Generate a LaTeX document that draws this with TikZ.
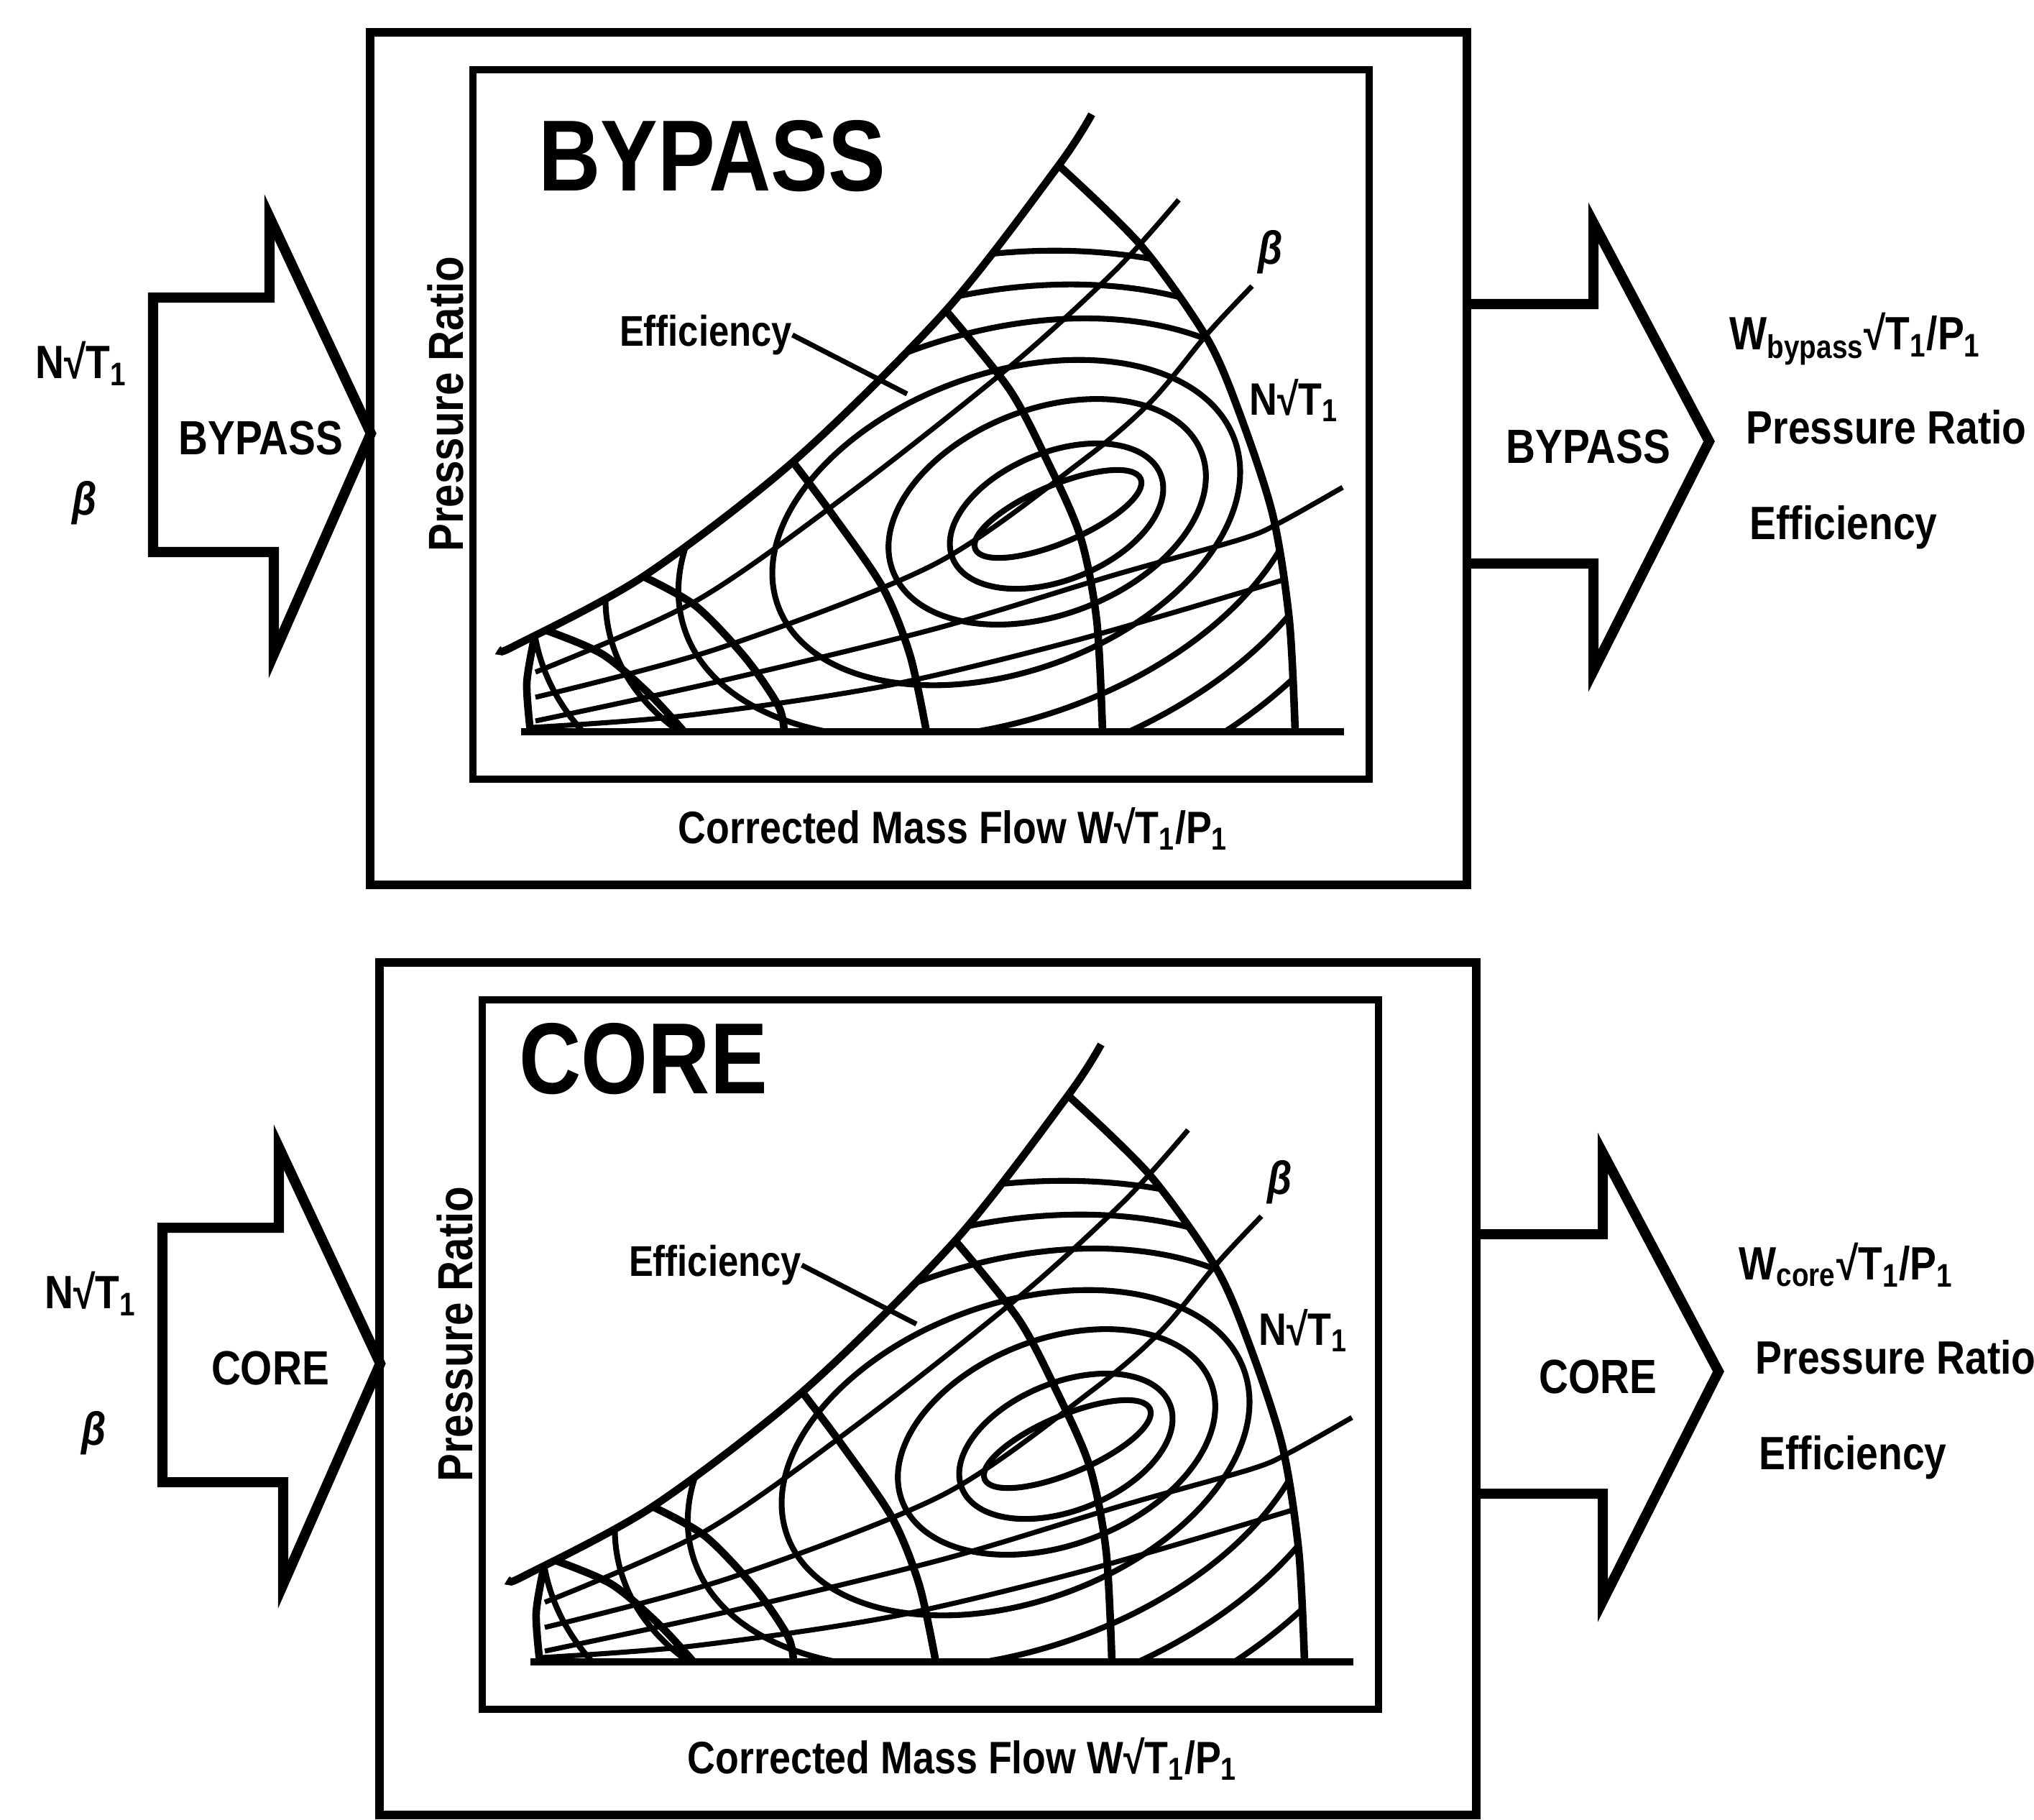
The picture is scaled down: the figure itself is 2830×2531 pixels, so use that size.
\documentclass[tikz,border=0pt]{standalone}
\usepackage{fontspec}
\setmainfont{Liberation Sans}
\usepackage{tikz}

\begin{document}
\begin{tikzpicture}[x=0.1mm,y=-0.1mm,
  lbl/.style={font=\bfseries\fontsize{18.5}{20}\selectfont,xscale=0.85,inner sep=0pt},
  lblsm/.style={font=\bfseries\fontsize{17}{18}\selectfont,xscale=0.85,inner sep=0pt},
  ttl/.style={font=\bfseries\fontsize{40}{42}\selectfont,xscale=0.85,inner sep=0pt},
  frame/.style={line width=3.2pt},
  plotbox/.style={line width=2.6pt},
  blockarrow/.style={line width=4pt},
  speed/.style={line width=3pt},
  betaline/.style={line width=2pt},
  effline/.style={line width=2.3pt}]
  \useasboundingbox (0,0) rectangle (2830,2531);
  \foreach \p/\ttext/\wsub/\dx/\dy/\tx/\ty in {byp/BYPASS/bypass/0/0/749/265, core/CORE/core/13/1294/709/227}{
  \begin{scope}[shift={(\dx,\dy)}]
    % frames and titles
    \draw[frame] (515,45) rectangle (2041,1231);
    \draw[plotbox] (658,97) rectangle (1905,1084);
    \node[ttl,anchor=base west] (\p-title) at (\tx,\ty) {\ttext};
    \node[rotate=90,lbl,font=\bfseries\fontsize{19.5}{20}\selectfont] (\p-ylab) at (620,562) {Pressure Ratio};
    \node[lbl,font=\bfseries\fontsize{18}{20}\selectfont] (\p-xlab) at (1326,1153) {Corrected Mass Flow W√T\textsubscript{1}/P\textsubscript{1}};
    % block arrows in and out
    \draw[blockarrow] (213,414) -- (375,414) -- (375,302) -- (516,603) -- (381,910) -- (381,768) -- (213,768) -- cycle;
    \draw[blockarrow] (2041,423) -- (2217,423) -- (2217,310) -- (2378,614) -- (2217,933) -- (2217,784) -- (2041,784);
    \node[lbl,font=\bfseries\fontsize{19}{20}\selectfont,anchor=base] (\p-in) at (363,632) {\ttext};
    \node[lbl,font=\bfseries\fontsize{19}{20}\selectfont,anchor=base] (\p-out) at (2210,644) {\ttext};
    \node[lbl,anchor=base] (\p-nin) at (113,526) {N√T\textsubscript{1}};
    \node[lbl] (\p-bin) at (118,700) {\itshape β};
    \node[lbl,anchor=base west] (\p-wout) at (2406,486) {W\textsubscript{\wsub}√T\textsubscript{1}/P\textsubscript{1}};
    \node[lbl,anchor=base west] (\p-prout) at (2429,617) {Pressure Ratio};
    \node[lbl,anchor=base west] (\p-effout) at (2434,750) {Efficiency};
    % efficiency contours
    \begin{scope}
      \clip plot[smooth] coordinates {(744,885) (895,802) (1105,641) (1316,432) (1473,230)}
        -- plot[smooth] coordinates {(1473,230) (1587,341) (1679,470) (1725,576) (1771,717) (1794,864) (1802,1018)}
        -- (738,1018) -- cycle;
      \foreach \cx/\cy/\an/\ra/\rb in {1472/715/23/125/40, 1470/718/22/156/89, 1457/712/21/230/143,
          1400/727/20/338/207, 1380/735/18/450/270, 1360/745/16/530/330, 1340/755/14/610/390}
        \draw[effline,rotate around={\an:(\cx,\cy)}] (\cx,\cy) ellipse[x radius=\ra,y radius=\rb];
    \end{scope}
    % beta lines
    \draw[betaline] plot[smooth] coordinates {(745,935) (970,835) (1190,680) (1411,505) (1553,375) (1640,278)};
    \draw[betaline] plot[smooth] coordinates {(745,970) (1000,902) (1300,785) (1507,640) (1602,558) (1681,463) (1742,398)};
    \draw[betaline] plot[smooth] coordinates {(745,1003) (1000,948) (1300,875) (1550,800) (1727,750) (1781,727) (1868,678)};
    \draw[betaline] plot[smooth] coordinates {(740,1012) (950,996) (1228,955) (1500,890) (1788,806)};
    % surge line, speed lines, axis
    \draw[speed] plot[smooth] coordinates {(700,903) (715,899) (895,802) (1105,641) (1316,432) (1473,230) (1519,159)};
    \draw[speed] plot[smooth] coordinates {(1473,230) (1587,341) (1679,470) (1725,576) (1771,717) (1794,864) (1802,1018)};
    \draw[speed] plot[smooth] coordinates {(1316,432) (1404,541) (1457,641) (1503,746) (1526,864) (1534,1018)};
    \draw[speed] plot[smooth] coordinates {(1105,645) (1159,717) (1228,817) (1266,911) (1289,1018)};
    \draw[speed] plot[smooth] coordinates {(895,802) (968,843) (1037,915) (1083,982) (1091,1018)};
    \draw[speed] plot[smooth] coordinates {(760,877) (838,910) (903,965) (952,1018)};
    \draw[speed] plot[smooth] coordinates {(744,885) (733,950) (738,1018)};
    \draw[speed] (725,1018) -- (1870,1018);
    % map labels
    \node[lblsm] (\p-eff) at (982,466) {Efficiency};
    \coordinate (\p-effend) at (1262,548);
    \draw[betaline] (\p-eff.east) -- (\p-effend);
    \node[lbl,font=\bfseries\fontsize{18}{20}\selectfont] (\p-nmap) at (1800,557) {N√T\textsubscript{1}};
    \node[lbl] (\p-bmap) at (1768,351) {\itshape β};
  \end{scope}}
\end{tikzpicture}
\end{document}
